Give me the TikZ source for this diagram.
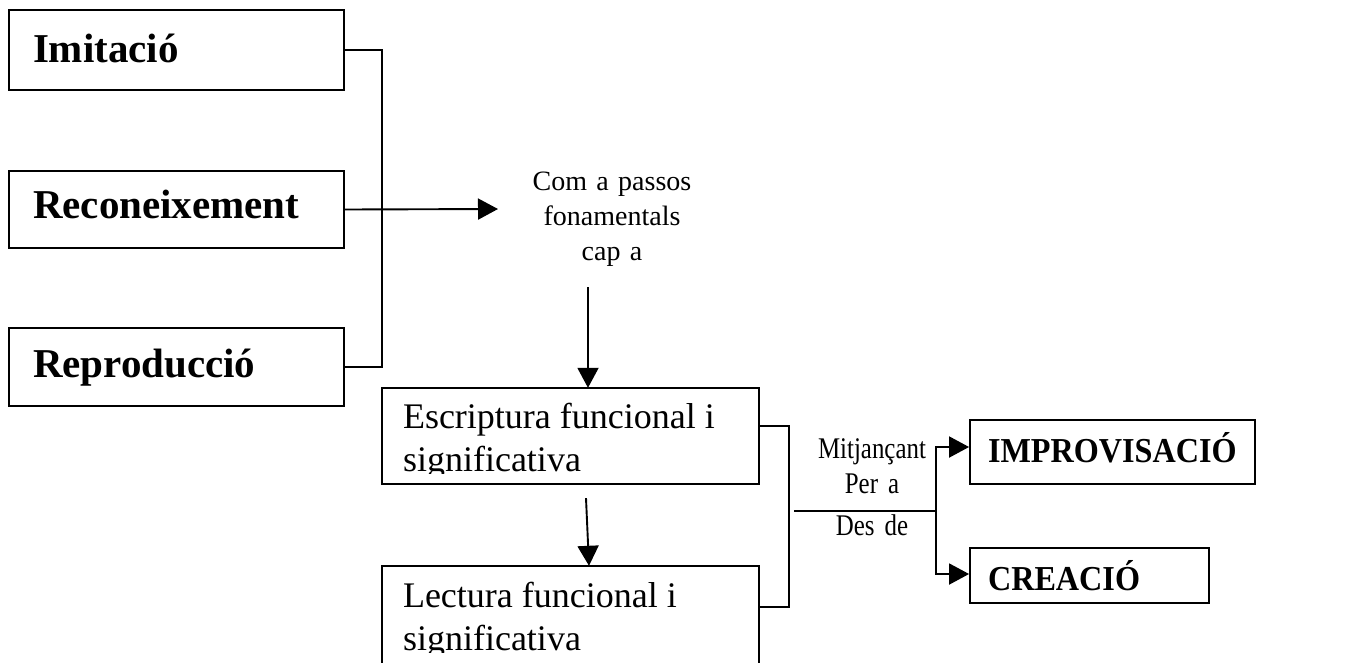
\documentclass[tikz,border=0pt]{standalone}
\usepackage{fontspec}
\setmainfont{Liberation Serif}
\newfontfamily\narrowserif[FakeStretch=0.83]{Liberation Serif}
\newfontfamily\narrowboldserif[FakeStretch=0.92]{Liberation Serif Bold}
\usetikzlibrary{arrows.meta}

\begin{document}
\begin{tikzpicture}[x=1pt,y=-1pt,
  line/.style={line width=1.9pt},
  arr/.style={line, -{Triangle[length=20pt,width=21pt]}},
  box/.style={draw, line width=1.9pt, rectangle, inner ysep=0pt, align=flush left},
  textbox/.style={rectangle, inner ysep=0pt, align=flush left},
  stagefont/.style={font=\fontsize{41}{49}\selectfont\bfseries},
  skillfont/.style={font=\fontsize{36}{43}\selectfont},
  goalfont/.style={font=\narrowboldserif\fontsize{35}{43}\selectfont},
  notefont/.style={font=\fontsize{28}{35}\selectfont},
  linkfont/.style={font=\narrowserif\fontsize{30}{35}\selectfont},
  note/.style={inner sep=0pt, align=center, anchor=north}
]
\useasboundingbox (0,0) rectangle (1351,662);
\fill[white] (0,0) rectangle (1351,662);
\clip (0,0) rectangle (1351,662);

% first stages
\node[box, stagefont, inner xsep=24pt, text width=287pt, text height=52pt, text depth=28pt]
  (imit) at (176.5,50) {Imitació};
\node[box, stagefont, inner xsep=24pt, text width=287pt, text height=47pt, text depth=30pt]
  (reco) at (176.5,209.5) {Reconeixement};
\node[box, stagefont, inner xsep=24pt, text width=287pt, text height=49pt, text depth=29pt]
  (repr) at (176.5,367) {Reproducció};

% caption between the stages and writing
\node[note, notefont, text width=220pt, text height=20pt]
  (pas) at (612,170) {Com a passos\\fonamentals\\cap a};

% writing and reading boxes (text cut off inside the frame)
\begin{scope}
  \clip (382,388) rectangle (759,473);
  \node[textbox, skillfont, inner xsep=21pt, text width=335pt, text height=40pt, text depth=56pt]
    (esc) at (570.5,436) {Escriptura funcional i\\significativa};
\end{scope}
\draw[line] (esc.north west) rectangle (esc.south east);

\begin{scope}
  \clip (382,566) rectangle (759,652);
  \node[textbox, skillfont, inner xsep=21pt, text width=335pt, text height=41pt, text depth=59pt]
    (lect) at (570.5,616) {Lectura funcional i\\significativa};
\end{scope}
\draw[line] (lect.north west) rectangle (lect.south east);

% goals
\node[box, goalfont, inner xsep=18pt, text width=249pt, text height=42pt, text depth=22pt]
  (impr) at (1112.5,452) {IMPROVISACIÓ};
\node[box, goalfont, inner xsep=18pt, text width=203pt, text height=42pt, text depth=13pt]
  (crea) at (1089.5,575.5) {CREACIÓ};

% link labels
\node[note, linkfont, text width=130pt, text height=22pt]
  (via) at (872,436) {Mitjançant\\Per a};
\node[note, linkfont, text width=130pt, text height=22pt]
  (des) at (872,513) {Des de};

% connectors
\coordinate (bkl) at (382,209);
\draw[line] (imit.east) -| (bkl) |- (repr.east);
\coordinate (pasin) at (498,209);
\draw[arr] (reco.east) -- (pasin);
\coordinate (pasout) at (588,287);
\draw[arr] (pasout) -- (pasout |- esc.north);
\draw[arr] ([xshift=15.5pt,yshift=-14pt]esc.south) -- ([xshift=18.5pt]lect.north);

\coordinate (bkr) at (789,516);
\draw[line] ([yshift=10pt]esc.east) -| (bkr) |- ([yshift=9pt]lect.east);
\coordinate (mstart) at (794,511);
\coordinate (split) at (936,511);
\draw[line] (mstart) -- (split);
\draw[arr] (split) |- ([yshift=5pt]impr.west);
\draw[arr] (split) |- ([yshift=1.5pt]crea.west);
\end{tikzpicture}
\end{document}
